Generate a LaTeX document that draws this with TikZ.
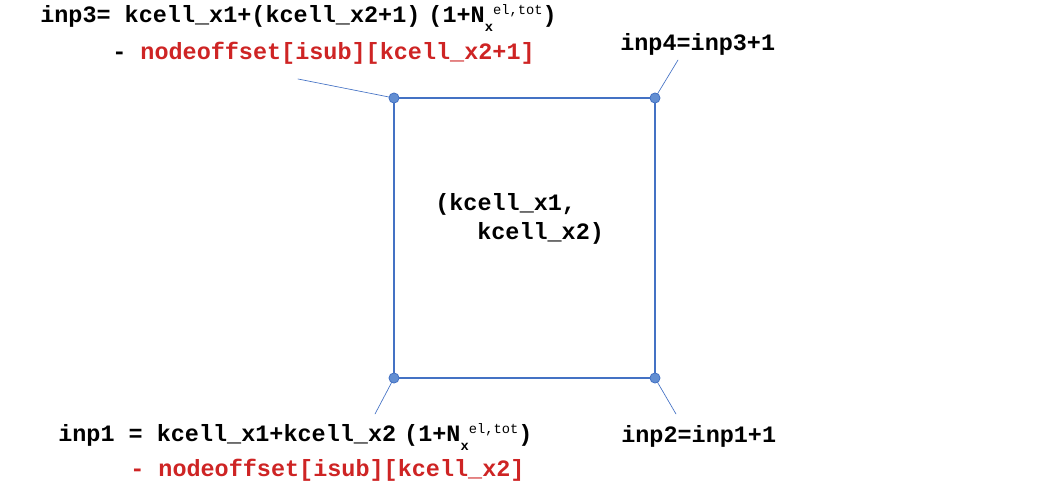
\documentclass[tikz,border=0pt]{standalone}
\usepackage{fontspec}
\setmonofont{Liberation Mono}
\definecolor{lineblue}{RGB}{68,114,196}
\definecolor{dotblue}{RGB}{98,142,210}
\definecolor{offred}{RGB}{206,36,36}
\newcommand{\lblfont}{\fontsize{17.6}{20}\selectfont\ttfamily\bfseries}
\newcommand{\smallfnt}{\fontsize{10.3}{12}\selectfont\ttfamily}
\newcommand{\Nxtot}{N\raisebox{-6.7pt}{\smallfnt\bfseries x}\raisebox{6pt}{\smallfnt\mdseries el,tot}}
\tikzset{lbl/.style={anchor=base west, inner sep=0pt, font=\lblfont}}
\begin{document}
\begin{tikzpicture}[x=0.75pt, y=-0.75pt, line join=round, line cap=round]
				\useasboundingbox (0,0) rectangle (1058,491);
				%% corner points and leader ends
				\path 
				(394,378) coordinate (N1)
				(655,378) coordinate (N2)
				(394,98) coordinate (N3)
				(655,98) coordinate (N4)
				(375,414) coordinate (L1)
				(676,414) coordinate (L2)
				(298,79) coordinate (L3)
				(678,60) coordinate (L4)
				;
				\draw[lineblue, line width=1.1pt] (N1)--(N2)--(N4)--(N3)--cycle;
				%% leaders and points
				\foreach \x in {1,...,4}
				\draw[lineblue, line width=.5pt] (N\x)--(L\x);
				\foreach \x in {1,...,4}
				\draw[lineblue, line width=.6pt, fill=dotblue] (N\x) circle (3.8pt);
				%% labels
				\node[lbl] (inp3) at (40,23) {inp3= kcell\_x1+(kcell\_x2+1)\hspace{6pt}(1+\Nxtot)};
				\node[lbl] (off3) at (112,60) {- \textcolor{offred}{nodeoffset[isub][kcell\_x2+1]}};
				\node[lbl] (inp4) at (620,51) {inp4=inp3+1};
				\node[lbl] (cellA) at (435,211) {(kcell\_x1,};
				\node[lbl] (cellB) at (477,240) {kcell\_x2)};
				\node[lbl] (inp1) at (58,442) {inp1 = kcell\_x1+kcell\_x2\hspace{6pt}(1+\Nxtot)};
				\node[lbl, offred] (off1) at (130,477) {- nodeoffset[isub][kcell\_x2]};
				\node[lbl] (inp2) at (621,443) {inp2=inp1+1};
		\end{tikzpicture}
\end{document}
